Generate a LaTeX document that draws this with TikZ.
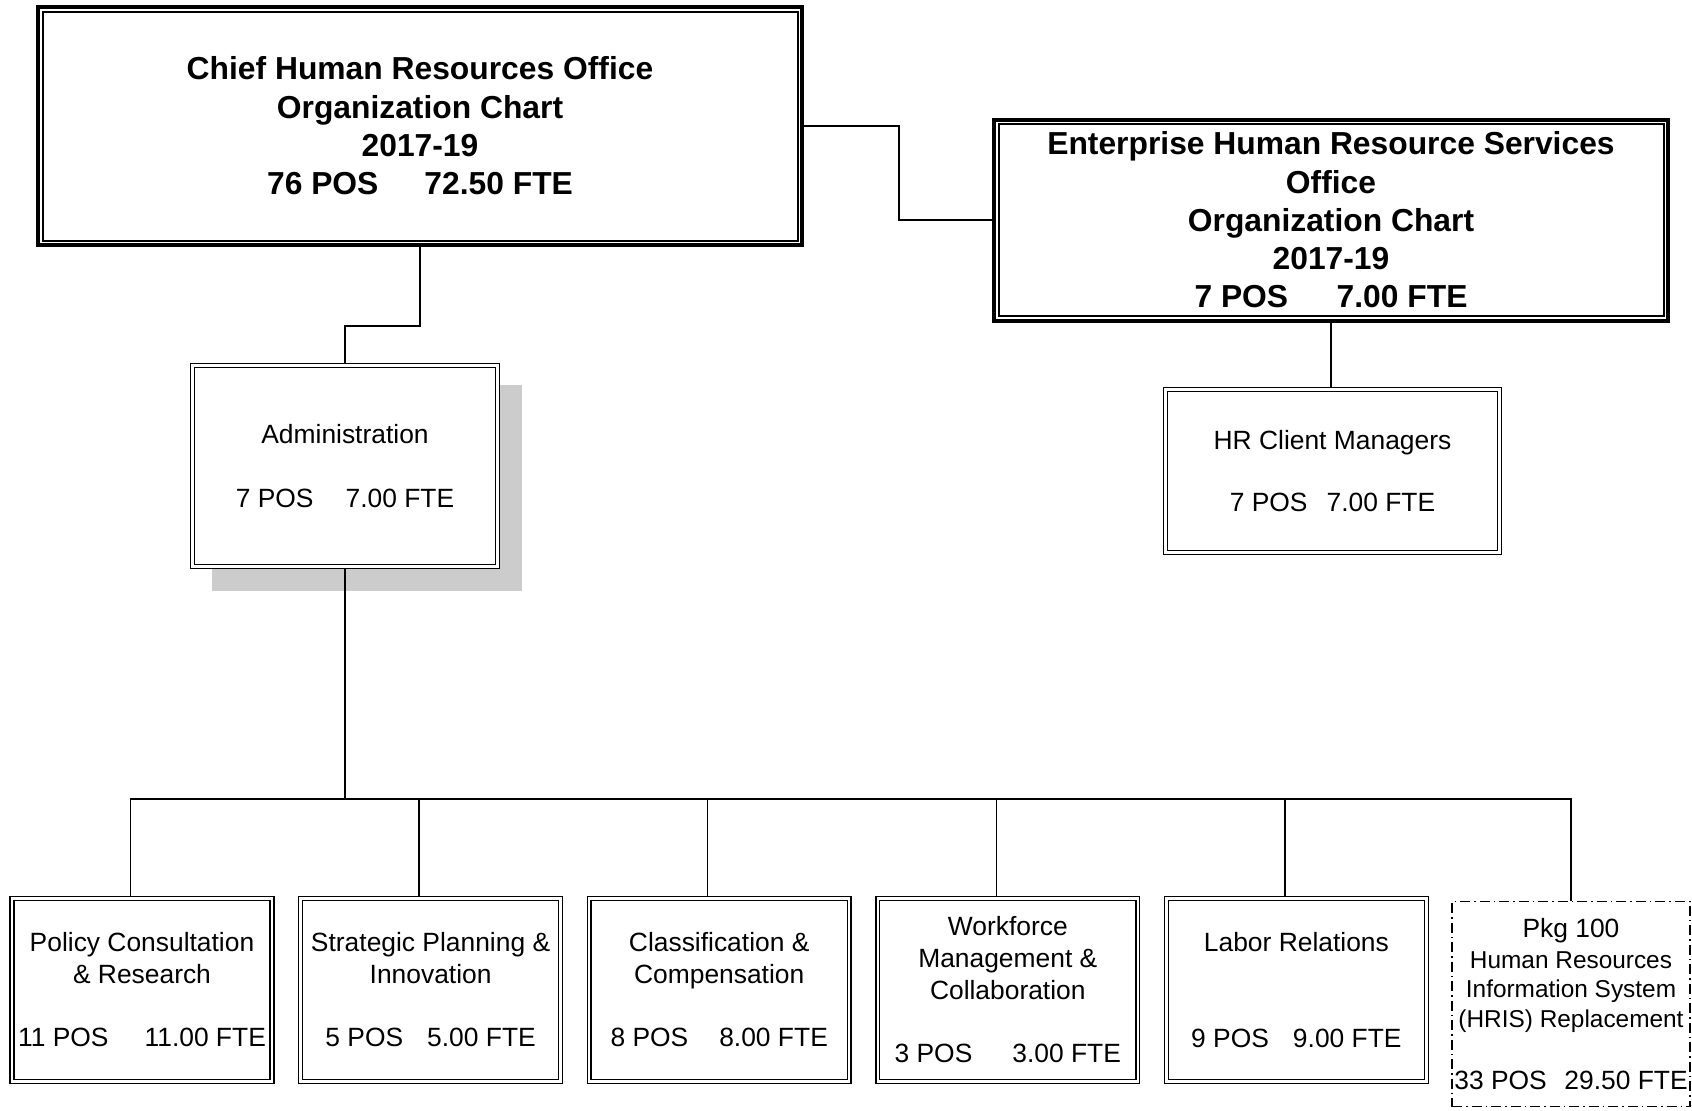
\documentclass[tikz,border=0pt]{standalone}
\usepackage{fontspec}
\setmainfont{Liberation Sans}
\usetikzlibrary{backgrounds}
\begin{document}
\begin{tikzpicture}[x=1pt,y=-1pt,
  conn/.style={draw, line width=1.4pt},
  unit/.style={draw, fill=white, double, line width=1.4pt, double distance=2.4pt, inner sep=0pt, outer sep=2.6pt, align=center, font=\fontsize{26.4pt}{32pt}\selectfont},
  lowbox/.style={unit, minimum width=260pt, minimum height=183pt},
  head/.style={draw, fill=white, line width=4pt, inner sep=0pt, outer sep=2pt, align=center, font=\bfseries\fontsize{31.8pt}{38.3pt}\selectfont},
  headinner/.style={draw, line width=2pt},
  pkgbox/.style={draw, fill=white, line width=1.4pt, dash pattern=on 10pt off 4pt on 1.5pt off 4pt, inner sep=0pt, outer sep=0.7pt, align=center, font=\fontsize{26.4pt}{32pt}\selectfont, minimum width=238pt, minimum height=205pt},
  shade/.style={fill=black!20},
]
\useasboundingbox (0,0) rectangle (1692,1111);

% top level
\node[head, minimum width=764pt, minimum height=238pt] (chro) at (420,126)
  {Chief Human Resources Office\\Organization Chart\\2017-19\\76 POS\hspace{46pt}72.50 FTE};
\draw[headinner] ([shift={(6.5,6.5)}]chro.north west) rectangle ([shift={(-6.5,-6.5)}]chro.south east);

\node[head, minimum width=674pt, minimum height=201pt] (ehrs) at (1331,220)
  {Enterprise Human Resource Services\\Office\\Organization Chart\\2017-19\\7 POS\hspace{48.5pt}7.00 FTE};
\draw[headinner] ([shift={(6.5,6.5)}]ehrs.north west) rectangle ([shift={(-6.5,-6.5)}]ehrs.south east);

% second level
\node[unit, minimum width=305pt, minimum height=201pt] (admin) at (345,466)
  {Administration\\[32pt]7 POS\hspace{32pt}7.00 FTE};
\begin{scope}[on background layer]
  \fill[shade] ([shift={(22,22)}]admin.north west) rectangle ([shift={(22,22)}]admin.south east);
\end{scope}

\node[unit, minimum width=334pt, minimum height=163pt] (hrcm) at (1332.5,471)
  {HR Client Managers\\[30pt]7 POS\hspace{19pt}7.00 FTE};

% bottom level
\node[lowbox] (b1) at (142,990)
  {Policy Consultation\\\& Research\\[31pt]11 POS\hspace{36pt}11.00 FTE};
\node[lowbox] (b2) at (430.6,990)
  {Strategic Planning \&\\Innovation\\[31pt]5 POS\hspace{24pt}5.00 FTE};
\node[lowbox] (b3) at (719.2,990)
  {Classification \&\\Compensation\\[31pt]8 POS\hspace{31pt}8.00 FTE};
\node[lowbox] (b4) at (1007.8,990)
  {Workforce\\Management \&\\Collaboration\\[31pt]3 POS\hspace{40pt}3.00 FTE};
\node[lowbox] (b5) at (1296.4,990)
  {Labor Relations\\[64pt]9 POS\hspace{24pt}9.00 FTE};
\node[pkgbox] (b6) at (1571,1004)
  {Pkg 100\\[-1pt]{\fontsize{24.4pt}{29pt}\selectfont Human Resources}\\[-3pt]{\fontsize{24.4pt}{29pt}\selectfont Information System}\\[-2pt]{\fontsize{24.4pt}{29pt}\selectfont (HRIS) Replacement}\\[30pt]33 POS\hspace{17.6pt}29.50 FTE};

% connectors
\draw[conn] (chro.east) -- ++(95,0) |- (ehrs.west);
\draw[conn] (ehrs.south) -- (ehrs.south |- hrcm.north);
\draw[conn] (chro.south) -- ++(0,79) -| (admin.north);
\coordinate (bus) at (345,799);
\draw[conn] (admin.south) -- (bus);
\foreach \b in {b1,b2,b3,b4,b5}
  \draw[conn] (bus) -| ([xshift=-11.5pt]\b.north);
\draw[conn] (bus) -| (b6.north);
\end{tikzpicture}
\end{document}
